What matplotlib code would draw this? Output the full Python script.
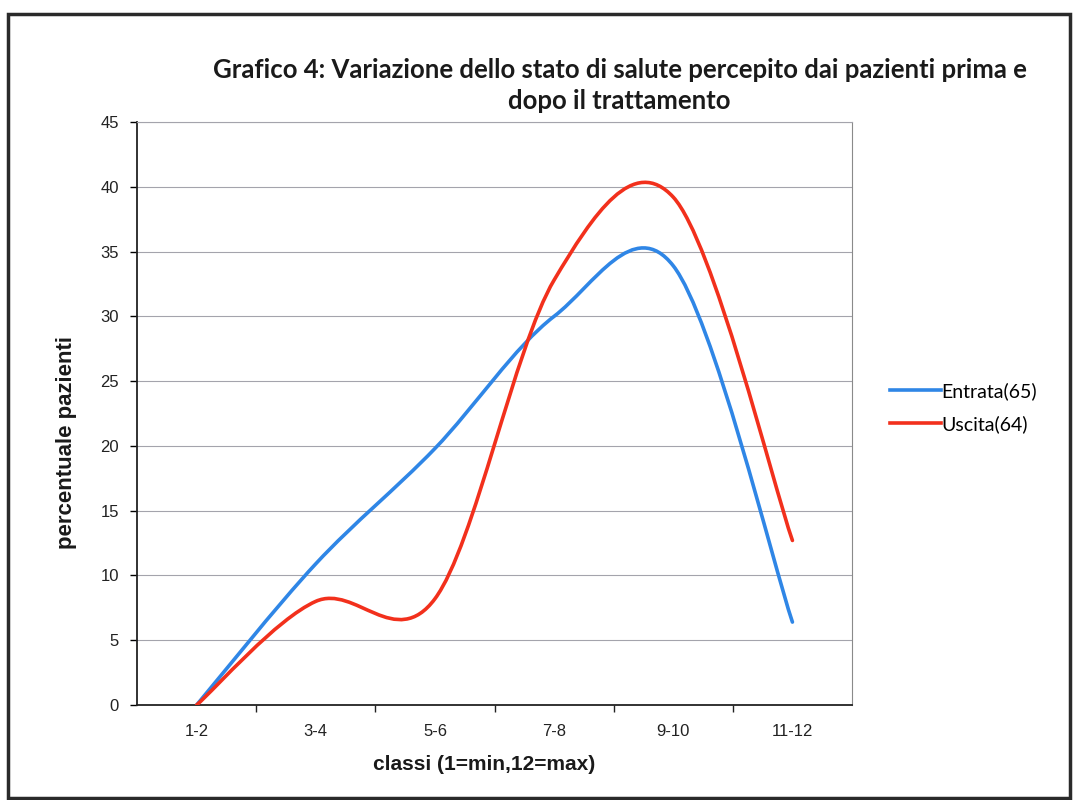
import numpy as np
import matplotlib.pyplot as plt
from matplotlib.path import Path
from matplotlib.patches import PathPatch, Rectangle
from matplotlib.lines import Line2D

classes = ['1-2', '3-4', '5-6', '7-8', '9-10', '11-12']
entrata = [0, 10.9, 19.8, 30.0, 33.9, 6.4]
uscita = [0, 8.0, 8.2, 32.8, 39.2, 12.7]
labels = ['Entrata(65)', 'Uscita(64)']
colors = ['#2f86e6', '#f2301c']


def smooth_path(xs, ys):
    # Catmull-Rom style bezier, like the Excel smoothed line
    pts = np.column_stack([xs, ys]).astype(float)
    n = len(pts)
    verts = [pts[0]]
    codes = [Path.MOVETO]
    for i in range(n - 1):
        p0 = pts[i - 1] if i > 0 else pts[i]
        p1 = pts[i]
        p2 = pts[i + 1]
        p3 = pts[i + 2] if i + 2 < n else pts[i + 1]
        c1 = p1 + (p2 - p0) / 6
        c2 = p2 - (p3 - p1) / 6
        verts += [c1, c2, p2]
        codes += [Path.CURVE4] * 3
    return Path(verts, codes)


fig = plt.figure(figsize=(10.74, 8), dpi=100)
ax = fig.add_axes([0.1276, 0.11875, 0.7933 - 0.1276, 0.8475 - 0.11875])

x = np.arange(len(classes))
for ys, c in zip([entrata, uscita], colors):
    patch = PathPatch(smooth_path(x, ys), facecolor='none', edgecolor=c,
                      lw=2.6, capstyle='round', zorder=3)
    ax.add_patch(patch)

ax.set_xlim(-0.5, len(classes) - 0.5)
ax.set_ylim(0, 45)
ax.set_yticks(np.arange(0, 46, 5))
ax.yaxis.grid(True, color='#a4a4ac', lw=0.8)
ax.set_axisbelow(True)

ax.set_xticks(np.arange(0.5, len(classes) - 0.5, 1))
ax.set_xticklabels([])
ax.set_xticks(x, minor=True)
ax.set_xticklabels(classes, minor=True)
ax.tick_params(axis='x', which='major', length=5, width=1, color='#222222')
ax.tick_params(axis='x', which='minor', length=0, pad=14, labelsize=12, labelcolor='#222222')
ax.tick_params(axis='y', length=5, width=1, pad=8, labelsize=12, labelcolor='#222222')
for lab in ax.get_xticklabels(minor=True) + ax.get_yticklabels():
    lab.set_family('Liberation Sans')

ax.spines['left'].set_color('#222222')
ax.spines['bottom'].set_color('#222222')
ax.spines['left'].set_linewidth(1.3)
ax.spines['bottom'].set_linewidth(1.3)
ax.spines['right'].set_color('#8a8a8a')
ax.spines['top'].set_color('#a4a4ac')

ax.set_ylabel('percentuale pazienti', fontsize=16, fontweight='bold',
              family='Liberation Sans', color='#1a1a1a')
ax.yaxis.set_label_coords(-0.084, 0.451)
ax.set_xlabel('classi (1=min,12=max)', fontsize=15, fontweight='bold',
              family='Liberation Sans', color='#1a1a1a')
ax.xaxis.set_label_coords(0.485, -0.086)

fig.text(0.577, 0.893, 'Grafico 4: Variazione dello stato di salute percepito dai pazienti prima e\ndopo il trattamento',
         ha='center', va='center', fontsize=18.5, fontweight='bold',
         family=['Lato', 'DejaVu Sans'], linespacing=1.38, color='#1a1a1a')

handles = [Line2D([], [], color=c, lw=2.6) for c in colors]
fig.legend(handles, labels, loc='center left', bbox_to_anchor=(0.8125, 0.4906),
           frameon=False, handlelength=2.6, handletextpad=0.05,
           labelspacing=0.75, prop={'family': 'Lato', 'size': 14})

fig.patches.append(Rectangle((0.0075, 0.0025), 0.989, 0.98, transform=fig.transFigure,
                             fill=False, edgecolor='#2a2a2a', lw=2.5))

fig.savefig('out.png', dpi=100)
